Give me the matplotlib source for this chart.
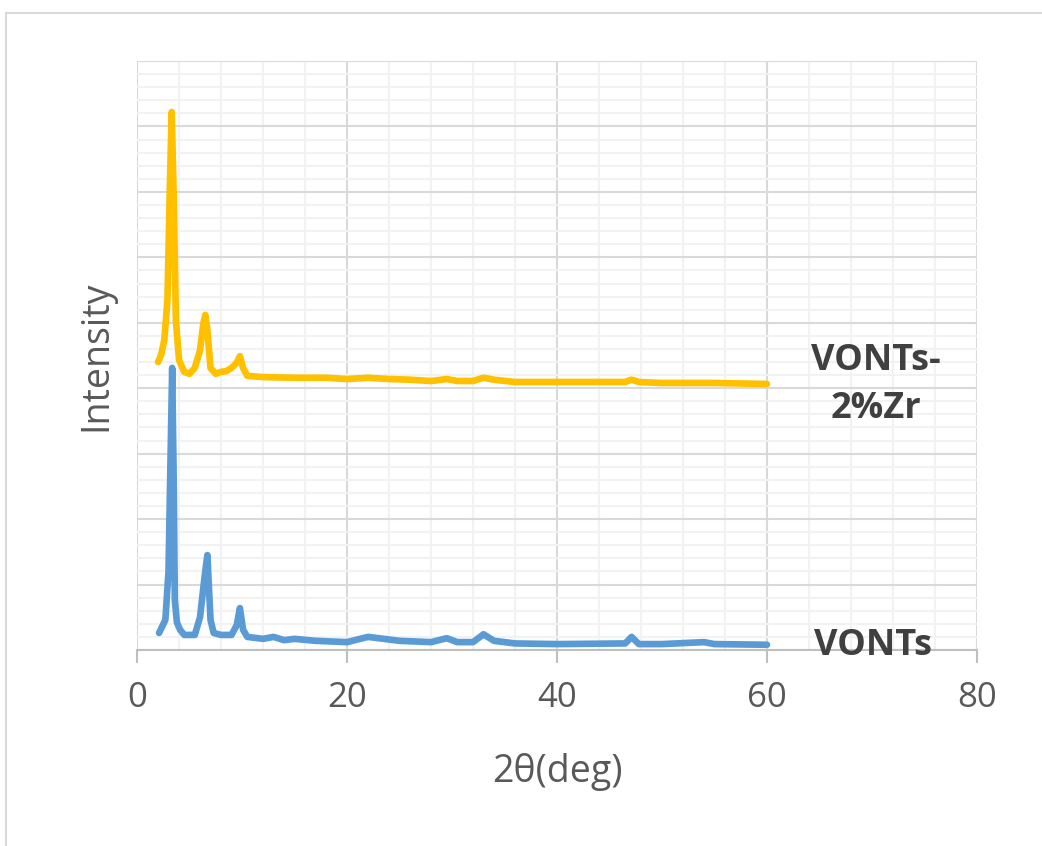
import matplotlib
matplotlib.use("Agg")
import matplotlib.pyplot as plt
from matplotlib.ticker import MultipleLocator, NullFormatter
from matplotlib.patches import Rectangle

# XRD patterns (2theta in deg, intensity in arbitrary counts)
zr_2theta = [2.0, 2.3, 2.6, 2.9, 3.1, 3.3, 3.5, 3.7, 4.0, 4.5, 5.0, 5.5, 6.0, 6.3,
             6.5, 6.7, 7.0, 7.5, 8.0, 8.5, 9.0, 9.5, 9.8, 10.1, 10.5, 12, 15, 18,
             20, 22, 24, 26, 28, 29.5, 30.5, 32, 33, 34, 36, 40, 45, 46.5, 47.1,
             47.8, 50, 55, 60]
zr_counts = [44000, 45100, 47400, 53500, 68800, 82200, 68800, 50400, 44300, 42500,
             42200, 43100, 45800, 49700, 51200, 48900, 43100, 42200, 42500, 42600,
             43100, 43900, 44900, 43100, 41900, 41700, 41600, 41600, 41400, 41600,
             41400, 41300, 41100, 41400, 41100, 41100, 41600, 41300, 40950, 40950,
             40950, 40950, 41300, 40950, 40800, 40800, 40650]

vonts_2theta = [2.1, 2.7, 3.0, 3.2, 3.35, 3.5, 3.6, 3.8, 4.1, 4.5, 5.5, 6.0, 6.4,
                6.7, 7.0, 7.3, 8.0, 9.0, 9.5, 9.8, 10.1, 10.5, 12, 13, 14, 15, 17,
                20, 22, 25, 28, 29.5, 30.5, 32, 33, 34, 36, 40, 46.5, 47.1, 47.8,
                50, 54, 55, 60]
vonts_counts = [2600, 4600, 12000, 30000, 43100, 25000, 7600, 4200, 3100, 2300,
                2300, 5000, 10700, 14500, 4600, 2600, 2300, 2300, 3800, 6400, 3100,
                2000, 1700, 2000, 1500, 1700, 1400, 1200, 2000, 1400, 1200, 1800,
                1200, 1200, 2400, 1400, 1000, 900, 1000, 2000, 900, 900, 1200, 900,
                800]

series_names = ["VONTs-\n2%Zr", "VONTs"]
colors = ["#FFC000", "#5B9BD5"]

plt.rcParams["font.family"] = ["Open Sans", "DejaVu Sans"]
text_gray = "#595959"

fig = plt.figure(figsize=(10.42, 8.46), dpi=100)
ax = fig.add_axes([0.1315, 0.2317, 0.8061, 0.6962])

# chart area border (light gray)
fig.patches.append(Rectangle((6 / 1042, -0.05), 1.2, 1.05 - 13 / 846,
                             transform=fig.transFigure, fill=False,
                             edgecolor="#D9D9D9", linewidth=1.5))

ax.plot(zr_2theta, zr_counts, color=colors[0], lw=4.8,
        solid_capstyle="round", solid_joinstyle="round", zorder=3)
ax.plot(vonts_2theta, vonts_counts, color=colors[1], lw=4.8,
        solid_capstyle="round", solid_joinstyle="round", zorder=3)

ax.set_xlim(0, 80)
ax.set_ylim(0, 90000)
ax.xaxis.set_major_locator(MultipleLocator(20))
ax.xaxis.set_minor_locator(MultipleLocator(4))
ax.yaxis.set_major_locator(MultipleLocator(10000))
ax.yaxis.set_minor_locator(MultipleLocator(2000))
ax.yaxis.set_major_formatter(NullFormatter())

ax.set_axisbelow(True)
ax.grid(which="minor", color="#F2F2F2", lw=1.5)
ax.grid(which="major", color="#D9D9D9", lw=1.5)

for s in ["top", "right", "left"]:
    ax.spines[s].set_visible(False)
ax.spines["bottom"].set_color("#BFBFBF")
ax.spines["bottom"].set_linewidth(1.5)

ax.tick_params(axis="y", which="both", length=0)
ax.tick_params(axis="x", which="minor", length=0)
ax.tick_params(axis="x", which="major", length=9, width=1.5, color="#BFBFBF",
               labelsize=25, labelcolor=text_gray, pad=13)

ax.set_xlabel("2θ(deg)", fontsize=27, color=text_gray, labelpad=28)
ax.set_ylabel("Intensity", fontsize=27, color=text_gray, labelpad=12)

ax.text(70.4, 44200, "VONTs-", ha="center", va="center", fontsize=26,
        fontweight="bold", color="#404040", clip_on=False, zorder=5)
ax.text(70.4, 36800, "2%Zr", ha="center", va="center", fontsize=26,
        fontweight="bold", color="#404040", clip_on=False, zorder=5)
ax.text(70.1, 600, "VONTs", ha="center", va="center", fontsize=26,
        fontweight="bold", color="#404040", clip_on=False, zorder=5)

fig.savefig("out.png", dpi=100)
